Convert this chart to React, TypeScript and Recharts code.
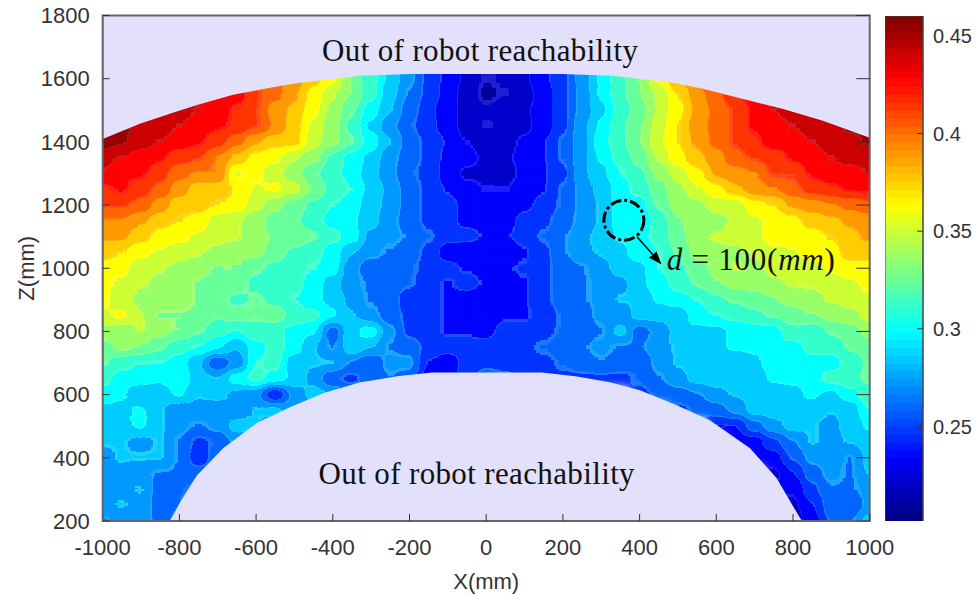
import React from 'react';
import { Area, Bar, BarChart, ComposedChart, ReferenceArea, ReferenceDot, ReferenceLine, Scatter, XAxis, YAxis } from 'recharts';

const n = null;

const xTicks = [-1000, -800, -600, -400, -200, 0, 200, 400, 600, 800, 1000];
const zTicks = [200, 400, 600, 800, 1000, 1200, 1400, 1600, 1800];
const barTicks = [0.25, 0.3, 0.35, 0.4, 0.45];
const valueRange = [0.2013, 0.4602];

// grid columns, one every 50 mm
const gridX = [-1000, -950, -900, -850, -800, -750, -700, -650, -600, -550, -500, -450, -400, -350, -300, -250, -200, -150, -100, -50, 0, 50, 100, 150, 200, 250, 300, 350, 400, 450, 500, 550, 600, 650, 700, 750, 800, 850, 900, 950, 1000];
const gridZ = [1650, 1600, 1550, 1500, 1450, 1400, 1350, 1300, 1250, 1200, 1150, 1100, 1050, 1000, 950, 900, 850, 800, 750, 700, 650, 600, 550, 500, 450, 400, 350, 300, 250, 200];

// values, top row first
const gridValues = [
  [n, n, n, n, n, n, n, n, .41, .40, .39, .375, .36, .33, .31, .29, .27, .25, .238, .225, .215, .218, .226, .238, .25, .272, .295, .315, .33, .36, .385, .40, .42, n, n, n, n, n, n, n, n],
  [.45, .45, .45, .44, .44, .43, .43, .42, .41, .40, .39, .375, .36, .33, .31, .29, .27, .25, .238, .225, .215, .218, .226, .238, .25, .272, .295, .315, .33, .36, .385, .40, .42, .43, .44, .45, .45, .45, .45, .45, .45],
  [.45, .45, .45, .44, .44, .43, .43, .43, .41, .40, .385, .365, .345, .33, .31, .285, .265, .25, .235, .222, .212, .216, .222, .235, .25, .27, .295, .315, .33, .345, .37, .39, .405, .42, .43, .44, .44, .45, .45, .45, .45],
  [.45, .45, .45, .44, .44, .435, .43, .42, .41, .39, .38, .36, .34, .32, .30, .28, .26, .245, .232, .225, .218, .222, .226, .235, .25, .27, .29, .31, .325, .345, .365, .385, .40, .41, .425, .435, .44, .44, .45, .45, .45],
  [.45, .45, .445, .44, .435, .43, .425, .42, .41, .395, .375, .355, .335, .315, .29, .27, .255, .245, .235, .222, .216, .218, .225, .235, .25, .275, .295, .315, .33, .35, .37, .39, .40, .41, .425, .43, .435, .44, .445, .45, .45],
  [.455, .45, .44, .435, .43, .425, .415, .40, .385, .375, .375, .35, .335, .32, .30, .28, .26, .25, .24, .228, .222, .224, .23, .24, .255, .275, .30, .315, .33, .355, .37, .385, .40, .41, .42, .43, .43, .435, .44, .445, .45],
  [.44, .435, .43, .425, .415, .41, .395, .38, .365, .36, .345, .335, .315, .30, .29, .27, .26, .25, .238, .232, .226, .226, .232, .24, .255, .275, .295, .31, .325, .345, .365, .38, .39, .405, .41, .415, .425, .43, .435, .44, .44],
  [.435, .425, .425, .415, .40, .395, .395, .355, .36, .35, .335, .32, .31, .30, .285, .27, .255, .25, .235, .226, .226, .225, .23, .24, .25, .275, .29, .305, .315, .335, .35, .365, .385, .39, .395, .41, .41, .425, .43, .43, .435],
  [.42, .425, .415, .405, .39, .375, .375, .37, .355, .36, .35, .33, .315, .305, .29, .275, .26, .25, .24, .232, .228, .228, .232, .24, .255, .27, .285, .30, .31, .325, .34, .355, .365, .38, .39, .395, .405, .415, .42, .425, .425],
  [.41, .41, .405, .39, .375, .375, .37, .365, .35, .335, .325, .315, .305, .30, .285, .275, .26, .25, .245, .238, .232, .232, .238, .245, .255, .27, .28, .30, .30, .32, .335, .34, .35, .35, .365, .37, .385, .39, .395, .40, .405],
  [.395, .395, .385, .375, .37, .365, .35, .345, .335, .325, .32, .31, .30, .295, .285, .27, .26, .25, .245, .238, .238, .236, .245, .25, .26, .27, .28, .30, .295, .31, .33, .335, .34, .345, .355, .36, .365, .375, .38, .385, .39],
  [.385, .385, .375, .365, .36, .355, .35, .345, .335, .33, .33, .32, .31, .30, .275, .27, .265, .255, .245, .245, .24, .24, .245, .255, .265, .275, .285, .295, .30, .31, .325, .34, .345, .35, .355, .36, .365, .365, .37, .38, .385],
  [.375, .37, .36, .355, .35, .345, .34, .335, .335, .325, .315, .31, .30, .28, .27, .265, .26, .25, .235, .232, .234, .232, .24, .25, .265, .275, .28, .29, .30, .305, .32, .335, .34, .34, .345, .355, .355, .365, .365, .375, .375],
  [.365, .36, .35, .345, .34, .335, .33, .33, .32, .315, .31, .305, .30, .27, .26, .26, .255, .25, .245, .24, .238, .24, .242, .25, .26, .265, .275, .285, .29, .305, .315, .325, .335, .345, .34, .35, .35, .35, .36, .365, .365],
  [.36, .355, .345, .34, .335, .33, .325, .325, .315, .31, .31, .30, .285, .27, .265, .26, .255, .245, .24, .245, .24, .236, .24, .25, .26, .265, .27, .275, .29, .30, .31, .32, .33, .335, .335, .34, .345, .345, .35, .355, .36],
  [.36, .35, .34, .335, .335, .33, .325, .315, .32, .315, .305, .295, .29, .275, .265, .26, .245, .245, .24, .235, .232, .235, .24, .25, .26, .265, .27, .28, .28, .295, .30, .305, .315, .32, .325, .33, .335, .34, .345, .35, .355],
  [.355, .36, .345, .33, .33, .33, .32, .325, .32, .325, .315, .31, .295, .28, .27, .26, .25, .245, .24, .235, .232, .24, .24, .245, .255, .26, .27, .27, .285, .285, .285, .30, .305, .31, .315, .32, .325, .33, .335, .34, .35],
  [.34, .335, .345, .335, .33, .32, .31, .305, .315, .31, .30, .295, .26, .29, .30, .27, .25, .245, .24, .24, .238, .245, .245, .25, .255, .26, .265, .285, .26, .27, .285, .29, .29, .295, .30, .30, .315, .31, .32, .325, .335],
  [.325, .335, .33, .32, .31, .305, .295, .28, .30, .31, .30, .28, .265, .29, .28, .265, .26, .25, .245, .245, .245, .25, .25, .255, .26, .265, .27, .265, .265, .275, .28, .285, .29, .295, .295, .30, .30, .31, .31, .32, .325],
  [.32, .31, .305, .305, .30, .28, .255, .27, .305, .31, .285, .28, .28, .265, .255, .27, .27, .24, .235, .245, .25, .25, .25, .25, .255, .26, .265, .26, .255, .27, .28, .285, .285, .28, .29, .30, .295, .30, .30, .31, .32],
  [.31, .30, .30, .295, .305, .285, .28, .30, .31, .30, .29, .275, .255, .25, .26, .265, .26, .235, .235, .25, .26, .255, .25, .25, .25, .25, .25, .25, .255, .265, .275, .285, .285, .285, .285, .295, .295, .30, .31, .315, .32],
  [.30, .295, .28, .285, .295, .28, .285, .275, .27, .24, .27, .285, .28, .265, .26, n, n, n, n, n, n, n, n, n, n, n, n, n, .25, .255, .26, .265, .275, .28, .285, .285, .29, .295, .29, .30, .315],
  [.29, .29, .295, .28, .27, .275, .27, .27, .28, .285, .27, .27, n, n, n, n, n, n, n, n, n, n, n, n, n, n, n, n, n, n, .25, .255, .26, .27, .285, .285, .28, .285, .28, .285, .305],
  [.285, .29, .295, .28, .27, .265, .27, .285, .28, .27, n, n, n, n, n, n, n, n, n, n, n, n, n, n, n, n, n, n, n, n, n, n, .24, .24, .26, .275, .285, .28, .275, .285, .295],
  [.28, .28, .275, .28, .265, .25, .255, .27, n, n, n, n, n, n, n, n, n, n, n, n, n, n, n, n, n, n, n, n, n, n, n, n, n, .235, .235, .25, .265, .28, .275, .28, .285],
  [.275, .28, .28, .28, .265, .245, .26, .26, n, n, n, n, n, n, n, n, n, n, n, n, n, n, n, n, n, n, n, n, n, n, n, n, n, n, .235, .235, .255, .27, .275, .265, .285],
  [.275, .275, .27, .265, .265, .26, .26, n, n, n, n, n, n, n, n, n, n, n, n, n, n, n, n, n, n, n, n, n, n, n, n, n, n, n, n, .225, .24, .26, .27, .265, .28],
  [.27, .275, .28, .26, .255, .25, .25, n, n, n, n, n, n, n, n, n, n, n, n, n, n, n, n, n, n, n, n, n, n, n, n, n, n, n, n, .23, .23, .25, .265, .265, .27],
  [.275, .28, .275, .26, .255, .235, .235, n, n, n, n, n, n, n, n, n, n, n, n, n, n, n, n, n, n, n, n, n, n, n, n, n, n, n, n, .225, .225, .24, .26, .255, .27],
  [.265, .27, .275, .26, .25, .24, .24, n, n, n, n, n, n, n, n, n, n, n, n, n, n, n, n, n, n, n, n, n, n, n, n, n, n, n, n, .22, .22, .235, .255, .265, .285],
];

// edge of the reachable zone
const outerX = [-1000, -903, -817, -754, -660, -538, -485, -329, -196, 196, 329, 487, 565, 670, 774, 878, 1000];
const outerZ = [1409, 1457, 1492, 1517, 1549, 1577, 1587, 1609, 1615, 1615, 1609, 1587, 1568, 1536, 1504, 1467, 1413];
const innerX = [-1000, -826, -820, -798, -754, -686, -598, -512, -425, -329, -298, -233, -141, 145, 233, 323, 401, 497, 583, 688, 757, 818, 824, 1000];
const innerZ = [200, 200, 210, 260, 345, 430, 510, 560, 604, 639, 645, 658, 670, 670, 658, 639, 614, 566, 519, 430, 336, 210, 200, 200];

const cells = gridZ.flatMap((z, r) =>
  gridX.map((x, c) => ({ x, z, value: gridValues[r][c] })).filter((d) => d.value !== null)
);
const topMask = outerX.map((x, i) => ({ x, band: [outerZ[i], 1800] }));
const bottomMask = innerX.map((x, i) => ({ x, band: [200, innerZ[i]] }));
const barData = [{ name: 'scale', span: valueRange }];

const W = 976;
const H = 594;
const plot = { left: 102.7, top: 15.5, right: 869.7, bottom: 521 };
const cellW = (plot.right - plot.left) / 40 + 0.5;
const cellH = ((plot.bottom - plot.top) / 1600) * 50 + 0.5;
const reachColor = '#e2e0fb';
const axisColor = '#333333';
const sansFont = '"Liberation Sans", Arial, sans-serif';
const serifFont = '"Liberation Serif", "DejaVu Serif", serif';

function jet(t: number) {
  const c = (v: number) => Math.max(0, Math.min(1, v));
  return [c(1.5 - Math.abs(4 * t - 3)), c(1.5 - Math.abs(4 * t - 2)), c(1.5 - Math.abs(4 * t - 1))];
}
function css(rgb: number[]) {
  return `rgb(${rgb.map((v) => Math.round(v * 255)).join(',')})`;
}

// contour bands: value goes in as grey, blur smooths it, the table turns it into flat jet bands
const BANDS = 20;
const STEPS = 10;
const bandTable = Array.from({ length: BANDS * STEPS }, (_, i) => {
  const k = Math.floor(i / STEPS);
  const col = jet((k + 0.5) / BANDS);
  return i % STEPS === 0 ? col.map((v) => v * 0.88 + 0.12) : col;
});
const tableFor = (ch: number) => bandTable.map((c) => c[ch].toFixed(3)).join(' ');

const barStops = Array.from({ length: 64 }, (_, i) => i);

function grey(v: number) {
  const t = Math.max(0, Math.min(1, (v - valueRange[0]) / (valueRange[1] - valueRange[0])));
  const g = Math.round(t * 255);
  return `rgb(${g},${g},${g})`;
}

function Cell(props: any) {
  const { cx, cy, payload } = props;
  return <rect x={cx - cellW / 2} y={cy - cellH / 2} width={cellW} height={cellH} fill={grey(payload.value)} />;
}

function Note({ cx, cy, text }: any) {
  return (
    <text x={cx} y={cy} textAnchor="middle" dominantBaseline="central" fontFamily={serifFont} fontSize={31} textLength={316} lengthAdjust="spacing" fill="#111">
      {text}
    </text>
  );
}

function Formula({ cx, cy }: any) {
  return (
    <text x={cx} y={cy} textAnchor="middle" dominantBaseline="central" fontFamily={serifFont} fontSize={31} textLength={168} lengthAdjust="spacing" fill="#111">
      <tspan fontStyle="italic">d</tspan>
      <tspan> = 100(</tspan>
      <tspan fontStyle="italic">mm</tspan>
      <tspan>)</tspan>
    </text>
  );
}

const tickStyle = { fill: axisColor, fontSize: 22, fontFamily: sansFont };
const labelStyle = { fill: axisColor, fontSize: 22, fontFamily: sansFont };

export default function App() {
  return (
    <div style={{ position: 'absolute', left: 0, top: 0, width: W, height: H, background: '#fff' }}>
      <style>{`.heat{filter:url(#contour);clip-path:url(#plotClip);}`}</style>
      <ComposedChart width={W} height={H} margin={{ top: plot.top, right: W - plot.right, bottom: 0, left: 0 }}>
        <defs>
          <clipPath id="plotClip" clipPathUnits="userSpaceOnUse">
            <rect x={plot.left} y={plot.top} width={plot.right - plot.left} height={plot.bottom - plot.top} />
          </clipPath>
          <filter id="contour" filterUnits="userSpaceOnUse" x={0} y={0} width={W} height={H} colorInterpolationFilters="sRGB">
            <feGaussianBlur stdDeviation="5 4" />
            <feComponentTransfer>
              <feFuncR type="discrete" tableValues={tableFor(0)} />
              <feFuncG type="discrete" tableValues={tableFor(1)} />
              <feFuncB type="discrete" tableValues={tableFor(2)} />
            </feComponentTransfer>
            <feGaussianBlur stdDeviation="0.6" />
          </filter>
          <marker id="arrowHead" markerWidth="14" markerHeight="12" refX="12" refY="5" orient="auto" markerUnits="userSpaceOnUse">
            <path d="M0,0 L13,5 L0,10 Z" fill="#000" />
          </marker>
        </defs>
        <XAxis
          type="number"
          dataKey="x"
          domain={[-1000, 1000]}
          ticks={xTicks}
          interval={0}
          height={H - plot.bottom}
          stroke="#666"
          tickSize={-7}
          tickMargin={25}
          tick={tickStyle}
          tickLine={{ stroke: '#333' }}
          allowDataOverflow
          label={{ value: 'X(mm)', position: 'insideBottom', offset: 5, style: labelStyle }}
        />
        <YAxis
          type="number"
          dataKey="z"
          domain={[200, 1800]}
          ticks={zTicks}
          interval={0}
          width={plot.left}
          stroke="#666"
          tickSize={-7}
          tickMargin={20}
          tick={tickStyle}
          tickLine={{ stroke: '#333' }}
          allowDataOverflow
          label={{ value: 'Z(mm)', angle: -90, position: 'insideLeft', offset: 26, style: { ...labelStyle, textAnchor: 'middle' } }}
        />
        <Scatter data={cells} className="heat" shape={<Cell />} isAnimationActive={false} zIndex={50} />
        <Area data={topMask} dataKey="band" type="linear" stroke="none" fill={reachColor} fillOpacity={1} dot={false} activeDot={false} isAnimationActive={false} />
        <Area data={bottomMask} dataKey="band" type="linear" stroke="none" fill={reachColor} fillOpacity={1} dot={false} activeDot={false} isAnimationActive={false} />
        <ReferenceArea x1={-1000} x2={1000} y1={200} y2={1800} fill="none" stroke="#666" strokeWidth={2} />
        {zTicks.map((z) => (
          <ReferenceLine key={z} segment={[{ x: 1000, y: z }, { x: 965, y: z }]} stroke="#333" />
        ))}
        <ReferenceDot x={359} y={1152} r={20} fill="none" stroke="#000" strokeWidth={3} strokeDasharray="11 3 3 3" />
        <ReferenceLine segment={[{ x: 393, y: 1100 }, { x: 455, y: 1015 }]} stroke="#000" strokeWidth={1.5} markerEnd="url(#arrowHead)" />
        <ReferenceDot x={-16} y={1690} r={0} shape={<Note text="Out of robot reachability" />} />
        <ReferenceDot x={-25} y={350} r={0} shape={<Note text="Out of robot reachability" />} />
        <ReferenceDot x={690} y={1030} r={0} shape={<Formula />} />
      </ComposedChart>
      <div style={{ position: 'absolute', left: 885, top: plot.top }}>
        <BarChart width={91} height={plot.bottom - plot.top} data={barData} margin={{ top: 0, right: 0, bottom: 0, left: 0 }} barCategoryGap={0}>
          <defs>
            <linearGradient id="jetBar" x1="0" y1="1" x2="0" y2="0">
              {barStops.flatMap((i) => [
                <stop key={`a${i}`} offset={i / 64} stopColor={css(jet((i + 0.5) / 64))} />,
                <stop key={`b${i}`} offset={(i + 1) / 64} stopColor={css(jet((i + 0.5) / 64))} />,
              ])}
            </linearGradient>
          </defs>
          <XAxis dataKey="name" hide />
          <YAxis
            orientation="right"
            type="number"
            domain={valueRange}
            ticks={barTicks}
            interval={0}
            width={53}
            stroke="#444"
            tickSize={-6}
            tickMargin={16}
            tick={{ fill: axisColor, fontSize: 20, fontFamily: sansFont }}
            tickLine={{ stroke: '#333' }}
            allowDataOverflow
          />
          <Bar dataKey="span" fill="url(#jetBar)" stroke="#444" isAnimationActive={false} />
        </BarChart>
      </div>
    </div>
  );
}
